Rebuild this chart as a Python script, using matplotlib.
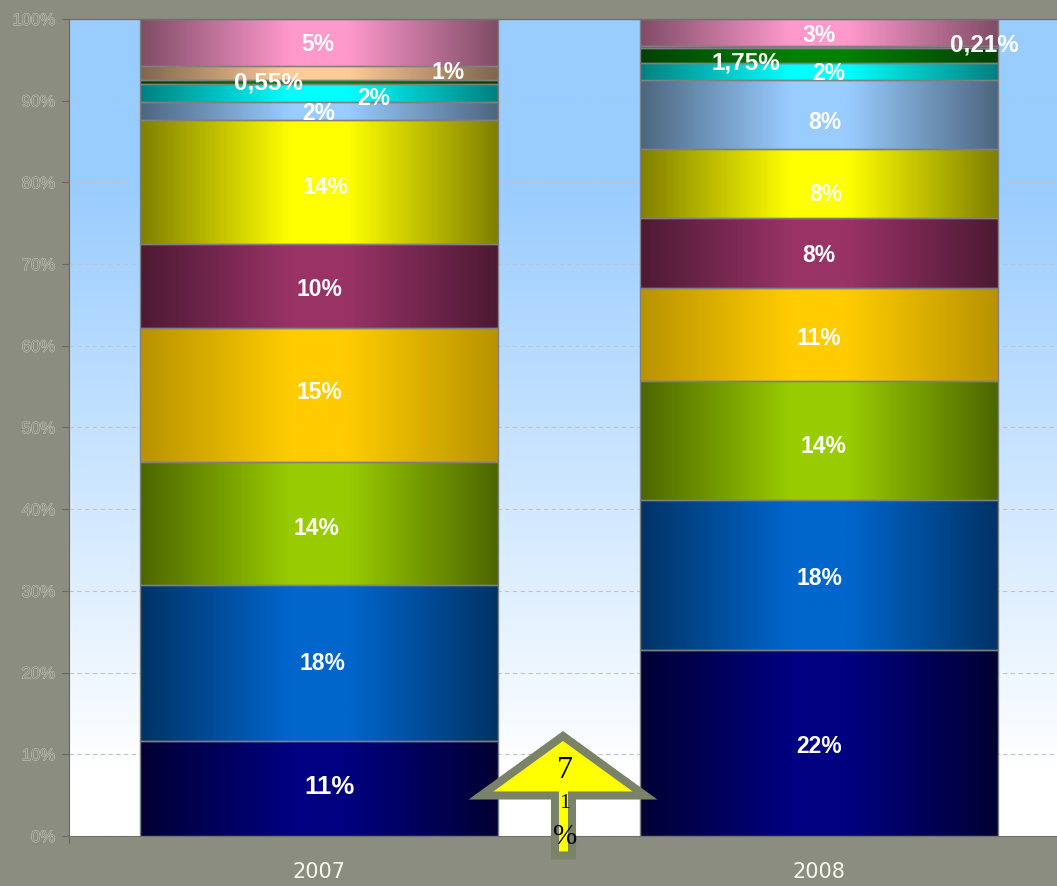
import numpy as np
import matplotlib
matplotlib.use("Agg")
import matplotlib.pyplot as plt
import matplotlib.patheffects as pe
from matplotlib.colors import LinearSegmentedColormap, to_rgb
from matplotlib.patches import Polygon
from matplotlib.transforms import IdentityTransform

years = ["2007", "2008"]
# share of each segment, bottom to top
shares_2007 = [11.6, 19.1, 15.1, 16.4, 10.3, 15.1, 2.3, 2.1, 0.55, 1.65, 5.75]
shares_2008 = [22.8, 18.3, 14.6, 11.4, 8.5, 8.5, 8.4, 2.1, 1.85, 0.2, 3.35]
labels_2007 = ["11%", "18%", "14%", "15%", "10%", "14%", "2%", "2%", "0,55%", "1%", "5%"]
labels_2008 = ["22%", "18%", "14%", "11%", "8%", "8%", "8%", "2%", "1,75%", "0,21%", "3%"]
colors = ["#000080", "#0066CC", "#99CC00", "#FFCC00", "#993366", "#FFFF00",
          "#99CCFF", "#00FFFF", "#008000", "#FFCC99", "#FF99CC"]
colors_2008 = colors[:9] + ["#808080", "#FF99CC"]
edge_dark = [0.4, 0.5, 0.5, 0.72, 0.5, 0.5, 0.5, 0.5, 0.5, 0.5, 0.5]
# label nudges in pixels, y down (the source chart had them dragged by hand)
nudge_2007 = [(11, -2), (3, 0), (-3, 5), (0, -2), (0, 4), (6, 6), (0, 3), (55, 6), (-51, 1), (129, -1), (-1, 2)]
nudge_2008 = [(0, 4), (0, 4), (4, 6), (0, 4), (0, 2), (7, 11), (6, 8), (10, 2), (-73, 7), (165, -2), (0, 3)]
size_2007 = [18.5, 16.5, 16.5, 16.5, 16.5, 16.5, 16.5, 16.5, 17.5, 16.5, 16.5]
size_2008 = [16.5, 16.5, 16.5, 16.5, 16.5, 16.5, 16.5, 16.5, 17.5, 17.5, 16.5]

W, H = 1057, 886
bg = "#8A8D7F"
grey = "#7A8268"

fig = plt.figure(figsize=(W / 100, H / 100), dpi=100, facecolor=bg)
ax = fig.add_axes([69 / W, (H - 836) / H, 1000 / W, 817 / H])
ax.set_facecolor("white")
ax.set_xlim(-0.5, 1.5)
ax.set_ylim(0, 100)

# sky gradient behind the bars
sky = LinearSegmentedColormap.from_list("sky", [(0, "#FFFFFF"), (0.08, "#FFFFFF"), (0.8, "#99CCFF"), (1, "#99CCFF")])
grad = np.linspace(0, 1, 256).reshape(-1, 1)
ax.imshow(grad, origin="lower", extent=(-0.5, 1.5, 0, 100), aspect="auto", cmap=sky, zorder=0)

ax.yaxis.grid(True, color="#C2C2CC", linestyle=(0, (4, 3)), linewidth=0.8)
ax.set_axisbelow(True)
for line in ax.get_ygridlines():
    line.set_zorder(1)

width = 0.716
ramp = np.linspace(0, 1, 256).reshape(1, -1)
for i, (shares, labels, cols, nudge, sizes) in enumerate([
        (shares_2007, labels_2007, colors, nudge_2007, size_2007),
        (shares_2008, labels_2008, colors_2008, nudge_2008, size_2008)]):
    bottom = 0
    for val, lab, col, dark, (dx, dy), fs in zip(shares, labels, cols, edge_dark, nudge, sizes):
        ax.bar(i, val, width, bottom=bottom, facecolor="none", edgecolor="#808080", linewidth=1, zorder=4)
        bright = np.array(to_rgb(col))
        cmap = LinearSegmentedColormap.from_list("seg", [(0, bright * dark), (0.42, bright), (0.58, bright), (1, bright * dark)])
        ax.imshow(ramp, extent=(i - width / 2, i + width / 2, bottom, bottom + val),
                  aspect="auto", cmap=cmap, zorder=3)
        ax.annotate(lab, (i, bottom + val / 2), xytext=(dx * 0.72, -dy * 0.72), textcoords="offset points",
                    ha="center", va="center", color="white", fontsize=fs, fontweight="bold",
                    family="Liberation Sans", zorder=6, annotation_clip=False)
        bottom += val
ax.set_xlim(-0.5, 1.5)
ax.set_ylim(0, 100)

ax.set_xticks([-0.5, 0.5, 1.5])
ax.set_xticklabels([])
ax.set_xticks([0, 1], minor=True)
ax.set_xticklabels(years, minor=True, color="#F7F7F0", fontsize=15, family="DejaVu Sans")
ax.tick_params(axis="x", which="minor", length=0, pad=19)
ax.tick_params(axis="x", which="major", length=5, color="#666666")
ax.set_yticks(np.arange(0, 101, 10))
ax.set_yticklabels([f"{v}%" for v in range(0, 101, 10)], family="Liberation Sans", fontsize=12, color=bg)
ax.tick_params(axis="y", length=5, color="#666666", pad=5)
for t in ax.get_yticklabels():
    t.set_path_effects([pe.Stroke(linewidth=0.6, foreground="#D0D1C8"), pe.Normal()])
for side in ["top", "right"]:
    ax.spines[side].set_visible(False)
ax.spines["left"].set_color("#666666")
ax.spines["bottom"].set_color("#707070")
fig.add_artist(plt.Line2D([69 / W, 1], [(H - 19) / H, (H - 19) / H], color="#6F7266", linewidth=1))

# arrow callout drawn on top, in pixel coordinates
arrow_px = [(563, 736), (645, 795.5), (572, 795.5), (572, 855.5), (555, 855.5), (555, 795.5), (481, 795.5)]
fig.add_artist(Polygon([(x, H - y) for x, y in arrow_px], closed=True, transform=IdentityTransform(),
                       facecolor="#FFFF00", edgecolor=grey, linewidth=5.8, joinstyle="miter", zorder=10))
for txt, y, size in [("7", 771, 23), ("1", 803, 16), ("%", 837, 21)]:
    fig.text(565 / W, (H - y) / H, txt, ha="center", va="center", fontsize=size, color="black",
             family="Liberation Serif", zorder=11)

fig.savefig("out.png", dpi=100, facecolor=bg)
plt.close(fig)
